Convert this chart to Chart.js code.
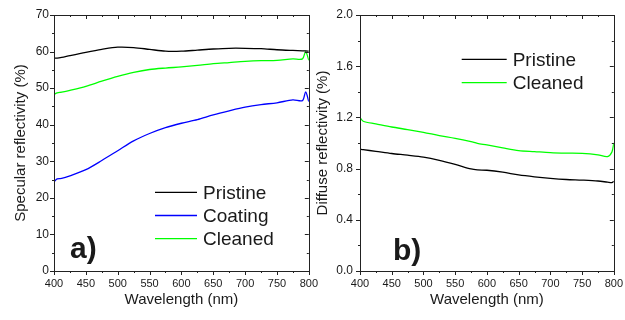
<!DOCTYPE html>
<html>
<head>
    <title>Reflectivity</title>
    <script src="https://cdn.jsdelivr.net/npm/chart.js"></script>
    <style>
        body { margin: 0; background: #fff; }
        #wrap { position: relative; width: 625px; height: 320px; }
        canvas { position: absolute; top: 0; }
    </style>
</head>
<body>
<div id="wrap">
    <canvas id="specChart" width="320" height="320" style="left:0px"></canvas>
    <canvas id="diffChart" width="320" height="320" style="left:305px"></canvas>
</div>
<script>
// panel a) specular reflectivity
const wlSpec = [400, 405, 412, 425, 450, 475, 500, 525, 550, 575, 600, 625, 650, 675, 700, 725, 750, 775, 790, 795, 800];
const specPristine = [58.2, 58.2, 58.4, 58.9, 59.8, 60.6, 61.2, 61.1, 60.6, 60.1, 60.1, 60.4, 60.7, 60.9, 60.9, 60.8, 60.5, 60.3, 60.2, 60.2, 60.1];
const specCoating = [24.4, 25.2, 25.3, 26.0, 27.7, 30.2, 32.9, 35.6, 37.6, 39.2, 40.4, 41.4, 42.7, 43.8, 44.8, 45.5, 46.0, 46.8, 46.6, 49.0, 46.3];
const specCleaned = [48.3, 48.7, 48.9, 49.4, 50.5, 51.9, 53.2, 54.3, 55.1, 55.5, 55.8, 56.2, 56.7, 57.0, 57.3, 57.5, 57.6, 58.0, 58.0, 60.0, 57.6];

// panel b) diffuse reflectivity
const wlDiff = [400, 405, 425, 450, 475, 500, 525, 550, 575, 585, 600, 625, 650, 675, 700, 725, 750, 775, 790, 797, 800];
const diffPristine = [0.952, 0.948, 0.935, 0.918, 0.905, 0.890, 0.865, 0.833, 0.797, 0.790, 0.787, 0.772, 0.751, 0.736, 0.724, 0.715, 0.710, 0.703, 0.694, 0.690, 0.700];
const diffCleaned = [1.200, 1.170, 1.150, 1.125, 1.105, 1.083, 1.058, 1.036, 1.010, 0.997, 0.985, 0.962, 0.941, 0.933, 0.925, 0.921, 0.919, 0.908, 0.894, 0.930, 1.000];

const xTicks = [400, 450, 500, 550, 600, 650, 700, 750, 800];

Chart.defaults.font.family = "'Liberation Sans', Arial, sans-serif";
Chart.defaults.color = '#1a1a1a';

function pts(xs, ys) {
    return xs.map((x, i) => ({ x: x, y: ys[i] }));
}

// frame, minor ticks, inside legend and the panel letter
const framePlugin = {
    id: 'frame',
    afterDraw(chart, args, opts) {
        const ctx = chart.ctx;
        const a = chart.chartArea;
        const sx = chart.scales.x, sy = chart.scales.y;
        ctx.save();
        ctx.strokeStyle = '#222';
        ctx.lineWidth = 1;
        ctx.strokeRect(Math.round(a.left) + 0.5, Math.round(a.top) + 0.5,
            Math.round(a.right - a.left), Math.round(a.bottom - a.top));

        ctx.beginPath();
        for (let v = sx.min; v <= sx.max + 0.001; v += 25) {
            const len = (v % 50 === 0) ? 4 : 2;
            const px = Math.round(sx.getPixelForValue(v)) + 0.5;
            ctx.moveTo(px, a.bottom); ctx.lineTo(px, a.bottom + len);
            ctx.moveTo(px, a.top); ctx.lineTo(px, a.top + len);
        }
        const n = Math.round((sy.max - sy.min) / opts.yMinor);
        for (let i = 0; i <= n; i++) {
            const v = sy.min + i * opts.yMinor;
            const len = (i % 2 === 0) ? 4 : 2;
            const py = Math.round(sy.getPixelForValue(v)) + 0.5;
            ctx.moveTo(a.left, py); ctx.lineTo(a.left - len, py);
            ctx.moveTo(a.right, py); ctx.lineTo(a.right - len, py);
        }
        ctx.stroke();

        // legend
        const lg = opts.legend;
        ctx.font = "19px 'Liberation Sans', Arial, sans-serif";
        ctx.textBaseline = 'middle';
        ctx.fillStyle = '#1a1a1a';
        chart.data.datasets.forEach((ds, i) => {
            const y = lg.y + i * lg.dy;
            ctx.strokeStyle = ds.borderColor;
            ctx.lineWidth = 1.3;
            ctx.beginPath();
            ctx.moveTo(lg.x1, y); ctx.lineTo(lg.x2, y);
            ctx.stroke();
            ctx.fillText(ds.label, lg.x2 + 6, y + 1);
        });

        // panel letter
        ctx.font = "bold 30px 'Liberation Sans', Arial, sans-serif";
        ctx.textBaseline = 'alphabetic';
        ctx.fillText(opts.letter.text, opts.letter.x, opts.letter.y);
        ctx.restore();
    }
};

function makePanel(id, datasets, yOpts, frameOpts) {
    return new Chart(document.getElementById(id), {
        type: 'line',
        data: { datasets: datasets },
        options: {
            responsive: false,
            animation: false,
            layout: { padding: { top: 15, bottom: 0, left: 0, right: frameOpts.right } },
            elements: { point: { radius: 0 }, line: { borderWidth: 1.3, tension: 0.3 } },
            plugins: {
                legend: { display: false },
                tooltip: { enabled: false },
                frame: frameOpts
            },
            scales: {
                x: {
                    type: 'linear',
                    min: 400,
                    max: 800,
                    afterBuildTicks: s => { s.ticks = xTicks.map(v => ({ value: v })); },
                    afterFit: s => { s.height = 49; },
                    grid: { drawOnChartArea: false, color: 'rgba(0,0,0,0)', tickLength: 4 },
                    border: { display: false },
                    ticks: { font: { size: 11 }, padding: 2, maxRotation: 0 },
                    title: { display: true, text: 'Wavelength (nm)', font: { size: 15 }, padding: { top: 0, bottom: 11 } }
                },
                y: {
                    min: yOpts.min,
                    max: yOpts.max,
                    afterBuildTicks: s => { s.ticks = yOpts.ticks.map(v => ({ value: v })); },
                    afterFit: s => { s.width = yOpts.width; },
                    grid: { drawOnChartArea: false, color: 'rgba(0,0,0,0)', tickLength: 4 },
                    border: { display: false },
                    ticks: { font: { size: 12 }, padding: yOpts.pad, callback: yOpts.fmt },
                    title: { display: true, text: yOpts.title, font: { size: 15 }, padding: { top: yOpts.titlePad, bottom: 0 } }
                }
            }
        },
        plugins: [framePlugin]
    });
}

makePanel('specChart', [
    { label: 'Pristine', data: pts(wlSpec, specPristine), borderColor: '#000000' },
    { label: 'Coating', data: pts(wlSpec, specCoating), borderColor: '#0000ff' },
    { label: 'Cleaned', data: pts(wlSpec, specCleaned), borderColor: '#00ff00' }
], {
    min: 0, max: 70, ticks: [0, 10, 20, 30, 40, 50, 60, 70],
    width: 54, pad: 1, titlePad: 12, fmt: v => String(v),
    title: 'Specular reflectivity (%)'
}, {
    right: 11, yMinor: 5,
    legend: { x1: 155, x2: 197, y: 192.3, dy: 23.2 },
    letter: { text: 'a)', x: 70, y: 258 }
});

makePanel('diffChart', [
    { label: 'Pristine', data: pts(wlDiff, diffPristine), borderColor: '#000000' },
    { label: 'Cleaned', data: pts(wlDiff, diffCleaned), borderColor: '#00ff00' }
], {
    min: 0, max: 2, ticks: [0, 0.4, 0.8, 1.2, 1.6, 2.0],
    width: 55, pad: 3, titlePad: 9, fmt: v => v.toFixed(1),
    title: 'Diffuse reflectivity (%)'
}, {
    right: 9.3, yMinor: 0.2,
    legend: { x1: 156.7, x2: 201.7, y: 59.3, dy: 23.4 },
    letter: { text: 'b)', x: 88, y: 260 }
});
</script>
</body>
</html>
